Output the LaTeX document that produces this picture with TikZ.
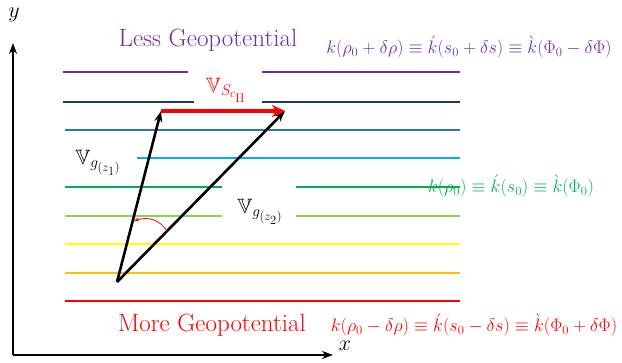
\RequirePackage{fix-cm}
\documentclass[tikz,border=0pt]{standalone}
\usepackage{amssymb}
\usetikzlibrary{arrows.meta}
\DeclareMathSizes{20.74}{20.74}{15.5}{12.5}
\definecolor{cpurple}{RGB}{112,48,160}
\definecolor{cnavy}{RGB}{31,56,100}
\definecolor{cblue}{RGB}{46,117,182}
\definecolor{clblue}{RGB}{0,176,240}
\definecolor{cgreen}{RGB}{0,176,80}
\definecolor{clgreen}{RGB}{146,208,80}
\definecolor{cyellow}{RGB}{255,255,0}
\definecolor{corange}{RGB}{255,192,0}
\definecolor{cred}{RGB}{255,0,0}
\tikzset{
  level/.style={line width=1.6pt},
  vec/.style={line width=2.6pt,-{Stealth[length=11pt,width=8pt]}},
  axis/.style={line width=2.2pt,-{Stealth[length=11pt,width=8pt]}},
  eq/.style={font=\fontsize{18.1}{21}\selectfont,inner sep=0pt},
  title/.style={font=\fontsize{25}{28}\selectfont,inner sep=0pt},
  vlab/.style={font=\fontsize{20.74}{23}\selectfont,inner sep=0pt}
}
\begin{document}
\begin{tikzpicture}[x=1pt,y=-1pt]
\useasboundingbox (0,0) rectangle (622,362);
% axes
\coordinate (O) at (13,355);
\coordinate (Y) at (13,43);
\coordinate (X) at (333,355);
\draw[axis] (O) -- (Y);
\draw[axis] (O) -- (X);
\node[font=\fontsize{22}{24}\selectfont] (ylab) at (14,15) {$y$};
\node[font=\fontsize{22}{24}\selectfont] (xlab) at (345,346) {$x$};
% levels
\draw[level,cpurple] (63,72) -- (188,72) (262,72) -- (460,72);
\draw[level,cnavy] (63,102) -- (194,102) (262,102) -- (460,102);
\draw[level,cblue] (65,130) -- (460,130);
\draw[level,clblue] (137,158) -- (460,158);
\draw[level,cgreen] (65,187) -- (222,187) (296,187) -- (460,187);
\draw[level,clgreen] (65,216) -- (222,216) (296,216) -- (460,216);
\draw[level,cyellow] (65,244) -- (460,244);
\draw[level,corange] (65,273) -- (460,273);
\draw[level,cred] (65,301) -- (460,301);
% vectors
\coordinate (P) at (117,282);
\coordinate (A) at (161,111);
\coordinate (B) at (285,111);
\draw[vec] (P) -- (A);
\draw[vec] (P) -- (B);
\draw[line width=3.4pt,cred,-{Stealth[length=13pt,width=12pt,inset=4pt]}] (A) -- (B);
\coordinate (r1) at (167,231);
\coordinate (r2) at (134,221);
\draw[cred,line width=0.8pt,-{Stealth[length=5pt,width=4pt]}] (r1) .. controls (160,220) and (148,216) .. (r2);
% labels
\node[vlab] (vg1) at (98,163) {$\mathbb{V}_{g_{(z_1)}}$};
\node[vlab] (vg2) at (260,212) {$\mathbb{V}_{g_{(z_2)}}$};
\node[vlab,text=cred] (vs) at (226,90) {$\mathbb{V}_{S_{c_{\mathrm{II}}}}$};
\node[title,text=cpurple] (less) at (208,40) {Less Geopotential};
\node[title,text=cred] (more) at (212,325) {More Geopotential};
\node[eq,text=cpurple] (e1) at (469,47) {$k(\rho_0+\delta\rho)\equiv\acute{k}(s_0+\delta s)\equiv\grave{k}(\Phi_0-\delta\Phi)$};
\node[eq,text=cgreen] (e2) at (511,186) {$k(\rho_0)\equiv\acute{k}(s_0)\equiv\grave{k}(\Phi_0)$};
\node[eq,text=cred] (e3) at (474,325) {$k(\rho_0-\delta\rho)\equiv\acute{k}(s_0-\delta s)\equiv\grave{k}(\Phi_0+\delta\Phi)$};
\end{tikzpicture}
\end{document}
